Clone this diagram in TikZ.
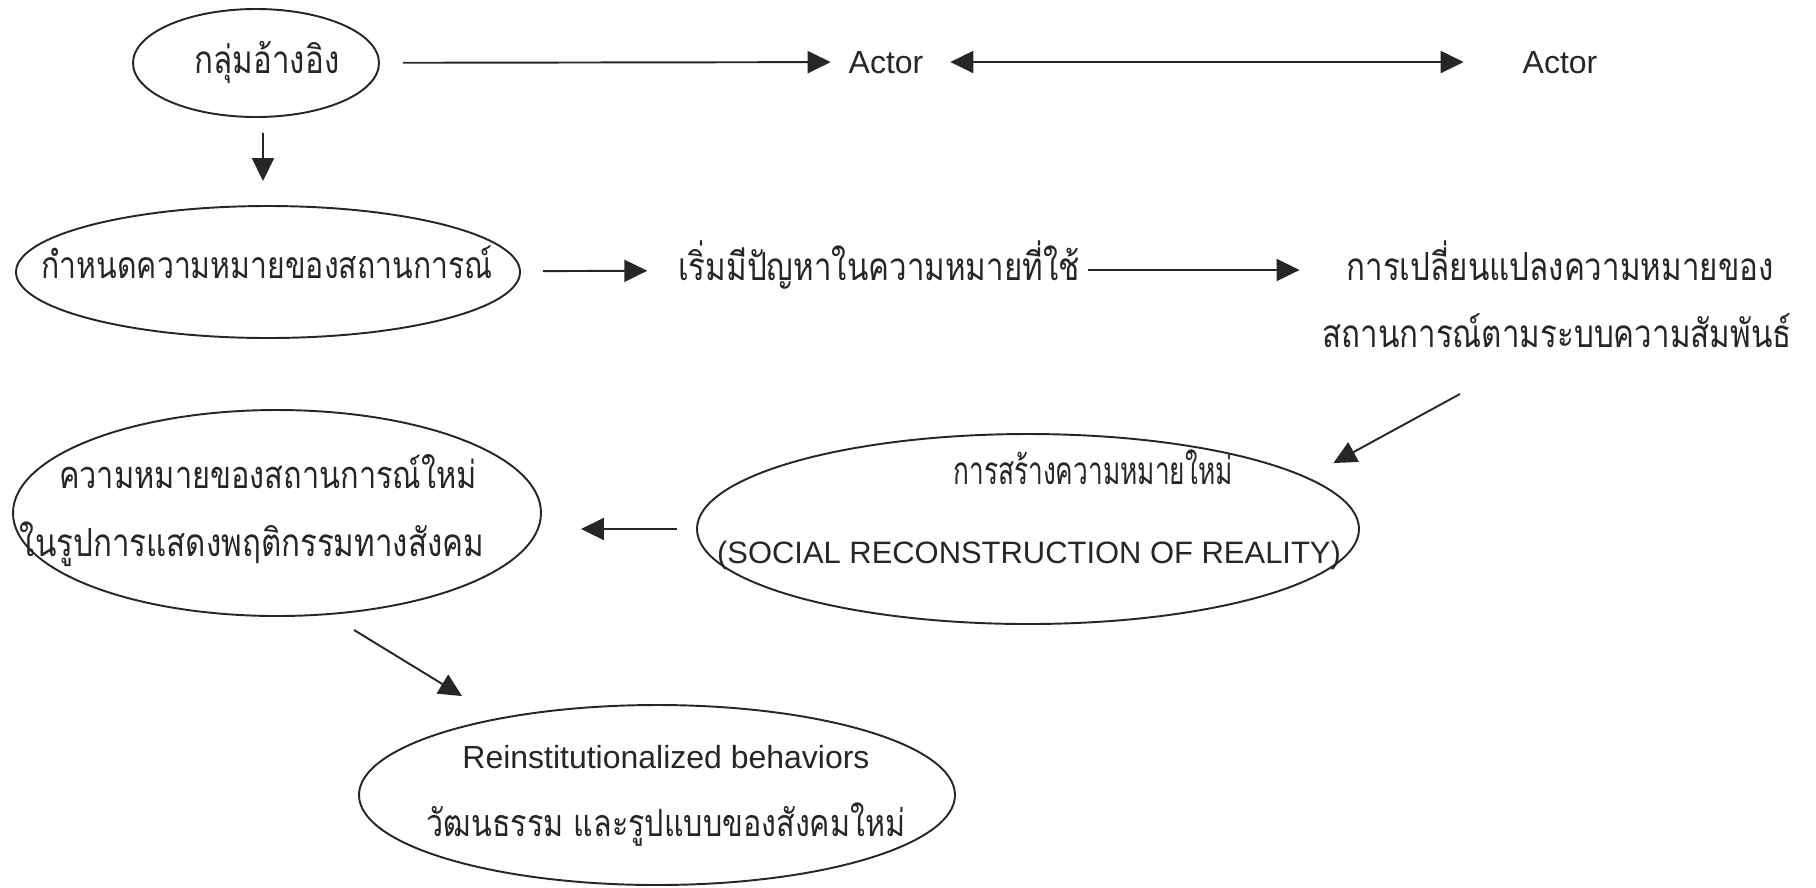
\documentclass[tikz,border=0pt]{standalone}
\usepackage{fontspec}
\setmainfont{Liberation Sans}
\newfontfamily\thaifont[Script=Thai,FakeStretch=0.81]{Loma}
\newfontfamily\thainarrow[Script=Thai,FakeStretch=0.68]{Loma}
\usetikzlibrary{arrows.meta,shapes.geometric}

\begin{document}
\begin{tikzpicture}[x=0.1mm,y=-0.1mm,line width=0.55pt,black!85]
\tikzstyle{every node}+=[inner sep=0pt]
\tikzstyle{oval}=[draw,ellipse]
\tikzstyle{thai}=[font=\thaifont\fontsize{11pt}{13pt}\selectfont,text height=2.6mm,text depth=0.6mm]
\tikzstyle{latin}=[font=\fontsize{9.1pt}{11pt}\selectfont,text height=2.6mm,text depth=0.3mm]
\tikzstyle{arr}=[-{Triangle[length=2.3mm,width=2.2mm]}]
\tikzstyle{twoway}=[{Triangle[length=2.3mm,width=2.2mm]}-{Triangle[length=2.3mm,width=2.2mm]}]
\useasboundingbox (0,0) rectangle (1816,887);
\node [oval,minimum width=24.6mm,minimum height=10.8mm] (e1) at (256,63) {};
\node [thai] (e1t) at (267,63) {กลุ่มอ้างอิง};
\node [latin] (a1) at (886,62) {Actor};
\node [latin] (a2) at (1560,62) {Actor};
\node [oval,minimum width=50.4mm,minimum height=13.2mm] (e2) at (268,272) {};
\node [thai,font=\thaifont\fontsize{10.6pt}{13pt}\selectfont] (e2t) at (267,268) {กำหนดความหมายของสถานการณ์};
\node [thai] (prob) at (879,270) {เริ่มมีปัญหาในความหมายที่ใช้};
\node [thai] (chg) at (1560,270) {การเปลี่ยนแปลงความหมายของ};
\node [thai] (chg2) at (1557,337) {สถานการณ์ตามระบบความสัมพันธ์};
\node [oval,minimum width=66.2mm,minimum height=19mm] (e4) at (1028,529) {};
\node [thai,font=\thainarrow\fontsize{11pt}{13pt}\selectfont] (e4a) at (1093,474) {การสร้างความหมายใหม่};
\node [latin,font=\fontsize{8.8pt}{11pt}\selectfont] (e4b) at (1029,552) {(SOCIAL RECONSTRUCTION OF REALITY)};
\node [oval,minimum width=52.8mm,minimum height=20.6mm] (e3) at (277,513) {};
\node [thai,font=\thaifont\fontsize{10.8pt}{13pt}\selectfont] (e3a) at (268,478) {ความหมายของสถานการณ์ใหม่};
\node [thai] (e3b) at (252,546) {ในรูปการแสดงพฤติกรรมทางสังคม};
\node [oval,minimum width=59.6mm,minimum height=18mm] (e5) at (657,795) {};
\node [latin] (e5a) at (666,757) {Reinstitutionalized behaviors};
\node [thai,font=\thaifont\fontsize{10.7pt}{13pt}\selectfont] (e5b) at (666,826) {วัฒนธรรม และรูปแบบของสังคมใหม่};
\draw [arr,shorten <=2.3mm,shorten >=1.7mm] (e1) -- (a1);
\draw [twoway,shorten <=2.6mm,shorten >=5.8mm] (a1) -- (a2);
\draw [arr] ([xshift=0.7mm,yshift=-1.5mm]e1.south) -- ([xshift=-0.5mm,yshift=2.4mm]e2.north);
\draw [arr,shorten <=2.2mm,shorten >=3mm] (e2) -- (prob);
\draw [arr,shorten <=0.7mm,shorten >=4.6mm] (prob) -- (chg);
\draw [arr] ([shift={(-97,40)}]chg2.south) -- ([shift={(22,-16)}]e4.10);
\draw [arr,shorten <=1.9mm,shorten >=3.9mm] (e4.west) -- (e4.west -| e3.east);
\draw [arr] ([shift={(77,13)}]e3.south) -- ([shift={(-195,-8)}]e5.north);
\end{tikzpicture}
\end{document}
